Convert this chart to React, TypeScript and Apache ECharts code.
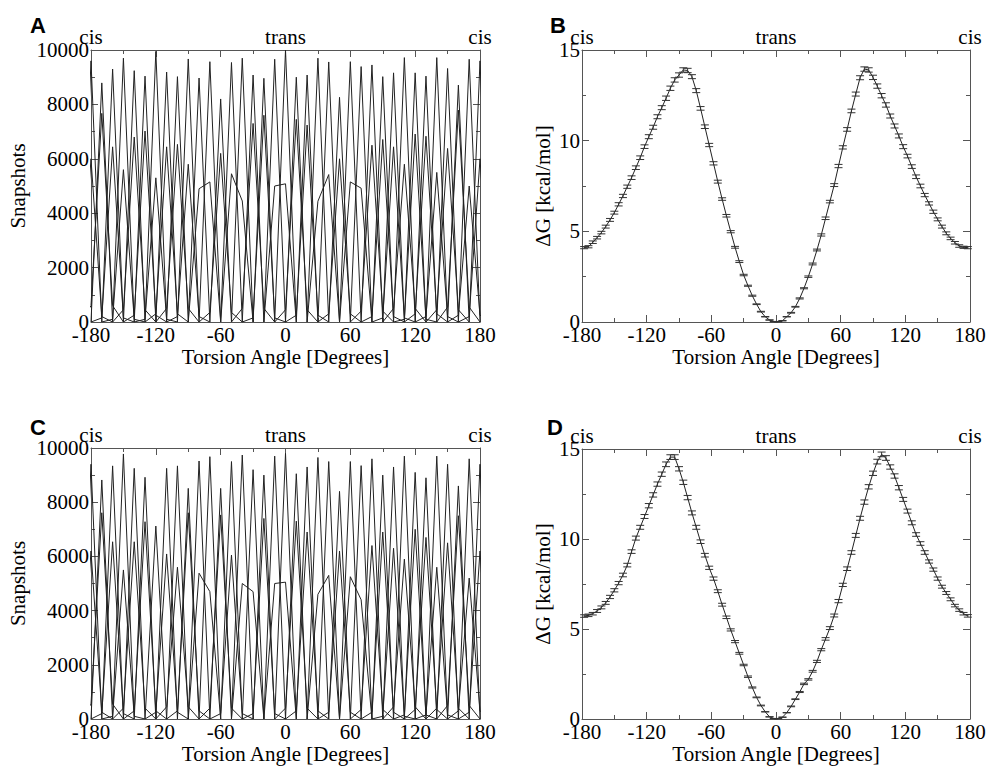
import React, { useEffect, useRef } from "react";
import * as echarts from "echarts";

const FONT = "Liberation Serif";
const SANS = "Liberation Sans";
const FS = 21;

// ---------- data ----------
// histogram grid (window centres, degrees)
const histAngles = [-180, -170, -160, -150, -140, -130, -120, -110, -100, -90, -80, -70, -60, -50, -40, -30, -20, -10, 0, 10, 20, 30, 40, 50, 60, 70, 80, 90, 100, 110, 120, 130, 140, 150, 160, 170, 180];

// Panel A: umbrella windows (snapshots)
const tallA = [9600, 8790, 9300, 9700, 9240, 9040, 9950, 9190, 9020, 9670, 8970, 9570, 8200, 9540, 9700, 9080, 8960, 9660, 10000, 9000, 9080, 9700, 9560, 8260, 9570, 9390, 9450, 9020, 9160, 9720, 9160, 9040, 9720, 9320, 8710, 9660, 9600];
const midA = [6000, 7670, 6440, 5600, 6800, 7020, 5300, 6440, 6530, 5800, null, null, 6200, null, null, 7300, 7600, null, null, 7450, 7240, null, null, 6000, null, null, 6500, 6710, 6440, 5800, 6910, 6830, 5500, 6380, 7790, 5000, 6000];
const tailA = [200, 600, 150, 100, 450, 250, 100, 300, 500, 200, 0, 0, 350, 0, 0, 500, 150, 0, 0, 450, 250, 0, 0, 300, 0, 0, 400, 200, 150, 500, 100, 300, 200, 450, 550, 250, 200];
const plateauStartA = [-80, -50, -10, 30, 60];
const plateauLeftA = [4900, 5450, 5000, 4440, 5150];
const plateauRightA = [5150, 4450, 5080, 5420, 4920];

// Panel C
const tallC = [9400, 8820, 9340, 9780, 9250, 8920, 7120, 9250, 9340, 8510, 9520, 9680, 8510, 9500, 9740, 9200, 9000, 9700, 9800, 9050, 9300, 9650, 9500, 8400, 9500, 9350, 9600, 9000, 9300, 9700, 9100, 8900, 9700, 9400, 8600, 9600, 9400];
const midC = [6200, 7610, 6540, 5500, 6540, 7280, null, 6090, 5600, 7610, null, null, 7530, 6050, null, null, 7400, null, null, 7300, 6900, null, null, 6200, null, null, 6400, 6900, 6300, 5900, 7000, 6700, 5600, 6500, 7500, 5200, 6200];
const tailC = [250, 550, 200, 100, 400, 300, 0, 250, 450, 300, 0, 0, 400, 200, 0, 0, 200, 0, 0, 400, 300, 0, 0, 250, 0, 0, 350, 250, 100, 450, 150, 350, 150, 400, 500, 300, 250];
const plateauStartC = [-80, -40, -10, 30, 60];
const plateauLeftC = [5380, 5000, 5000, 4600, 5250];
const plateauRightC = [4700, 4700, 5050, 5300, 4400];

// free-energy bin centres
const feAngles = Array.from({ length: 90 }, (_, i) => -178 + 4 * i);

// Panel B: ΔG (kcal/mol)
const dgB = [
  4.10, 4.15, 4.40, 4.65, 4.93, 5.26, 5.63, 6.03, 6.49, 6.95, 7.46, 7.96, 8.51, 9.06, 9.67, 10.22, 10.74, 11.32, 11.82, 12.34, 12.89, 13.35, 13.62, 13.90, 13.87, 13.53, 12.76, 11.78, 10.77, 9.76, 8.75, 7.74, 6.78, 5.86, 4.98, 4.12, 3.33, 2.59, 2.00, 1.45, 0.98, 0.57, 0.29, 0.11, 0.02,
  0.02, 0.07, 0.29, 0.51, 0.84, 1.30, 1.86, 2.50, 3.20, 3.97, 4.80, 5.72, 6.64, 7.55, 8.60, 9.63, 10.62, 11.64, 12.57, 13.47, 13.95, 13.90, 13.49, 13.01, 12.48, 11.97, 11.36, 10.81, 10.26, 9.67, 9.15, 8.57, 8.01, 7.50, 7.00, 6.54, 6.08, 5.66, 5.26, 4.89, 4.61, 4.37, 4.19, 4.12, 4.10,
];
const errB = [
  0.06, 0.06, 0.07, 0.07, 0.07, 0.08, 0.08, 0.08, 0.09, 0.09, 0.09, 0.10, 0.10, 0.10, 0.10, 0.11, 0.11, 0.11, 0.11, 0.12, 0.12, 0.12, 0.12, 0.12, 0.12, 0.11, 0.11, 0.10, 0.10, 0.09, 0.09, 0.08, 0.07, 0.07, 0.06, 0.05, 0.05, 0.04, 0.03, 0.03, 0.02, 0.02, 0.01, 0.01, 0.01,
  0.01, 0.01, 0.01, 0.02, 0.02, 0.03, 0.03, 0.04, 0.05, 0.05, 0.06, 0.07, 0.07, 0.08, 0.09, 0.09, 0.10, 0.10, 0.11, 0.11, 0.12, 0.12, 0.12, 0.12, 0.12, 0.12, 0.11, 0.11, 0.11, 0.11, 0.10, 0.10, 0.10, 0.10, 0.09, 0.09, 0.09, 0.08, 0.08, 0.08, 0.07, 0.07, 0.07, 0.06, 0.06,
];

// Panel D: ΔG (kcal/mol)
const dgD = [
  5.72, 5.76, 5.85, 6.00, 6.20, 6.45, 6.78, 7.15, 7.55, 8.00, 8.55, 9.30, 10.05, 10.65, 11.25, 11.85, 12.45, 13.05, 13.60, 14.15, 14.55, 14.55, 13.90, 13.15, 12.30, 11.45, 10.65, 9.85, 9.10, 8.40, 7.80, 7.10, 6.35, 5.65, 4.95, 4.30, 3.65, 3.00, 2.35, 1.75, 1.20, 0.75, 0.40, 0.12, 0.02,
  0.02, 0.10, 0.35, 0.70, 1.10, 1.50, 1.95, 2.20, 2.65, 3.20, 3.85, 4.45, 5.05, 5.75, 6.55, 7.45, 8.35, 9.25, 10.20, 11.15, 12.05, 12.90, 13.65, 14.30, 14.70, 14.50, 14.00, 13.50, 12.85, 12.20, 11.55, 10.90, 10.25, 9.75, 9.25, 8.75, 8.30, 7.80, 7.35, 7.00, 6.65, 6.30, 6.05, 5.85, 5.73,
];
const errD = [
  0.07, 0.07, 0.07, 0.08, 0.08, 0.08, 0.09, 0.09, 0.09, 0.10, 0.10, 0.10, 0.11, 0.11, 0.11, 0.12, 0.12, 0.12, 0.12, 0.13, 0.13, 0.13, 0.12, 0.12, 0.12, 0.11, 0.11, 0.10, 0.10, 0.09, 0.09, 0.08, 0.08, 0.07, 0.06, 0.06, 0.05, 0.04, 0.04, 0.03, 0.02, 0.02, 0.01, 0.01, 0.01,
  0.01, 0.01, 0.01, 0.02, 0.02, 0.03, 0.04, 0.04, 0.05, 0.06, 0.06, 0.07, 0.08, 0.08, 0.09, 0.09, 0.10, 0.10, 0.11, 0.11, 0.12, 0.12, 0.12, 0.13, 0.13, 0.13, 0.12, 0.12, 0.12, 0.11, 0.11, 0.11, 0.10, 0.10, 0.10, 0.09, 0.09, 0.09, 0.08, 0.08, 0.08, 0.07, 0.07, 0.07, 0.07,
];

const panelLetters = ["A", "B", "C", "D"];
const topLabels: Record<number, string> = { [-180]: "cis", 0: "trans", 180: "cis" };

// ---------- layout ----------
const grids = [
  { left: 91, top: 50, width: 389, height: 272 },
  { left: 582, top: 50, width: 388, height: 272 },
  { left: 91, top: 448, width: 389, height: 271 },
  { left: 582, top: 449, width: 388, height: 270 },
];
const letterPos = [
  { x: 30, y: 14 },
  { x: 550, y: 14 },
  { x: 30, y: 416 },
  { x: 547, y: 416 },
];

const AX = "#555";
const LINE = "#222";

function buildOption() {
  const xAxis: any[] = [];
  const yAxis: any[] = [];
  const series: any[] = [];
  const textStyle = { fontFamily: FONT, fontSize: FS, color: "#000" };

  grids.forEach((_, g) => {
    const isHist = g === 0 || g === 2;
    const common = {
      type: "value",
      gridIndex: g,
      min: -180,
      max: 180,
      interval: 60,
      axisLine: { show: true, onZero: false, lineStyle: { color: AX, width: 1 } },
      axisTick: { show: true, inside: true, length: 7, lineStyle: { color: AX } },
      minorTick: { show: true, splitNumber: 2, length: 4, lineStyle: { color: AX } },
      splitLine: { show: false },
      minorSplitLine: { show: false },
    };
    xAxis.push({
      ...common,
      position: "bottom",
      axisLabel: { ...textStyle, margin: 2, formatter: (v: number) => String(v) },
      name: "Torsion Angle [Degrees]",
      nameLocation: "middle",
      nameGap: 24,
      nameTextStyle: textStyle,
    });
    xAxis.push({
      ...common,
      position: "top",
      axisLabel: { ...textStyle, margin: 3, formatter: (v: number) => topLabels[v] ?? "" },
    });
    const ycommon = {
      type: "value",
      gridIndex: g,
      min: 0,
      max: isHist ? 10000 : 15,
      interval: isHist ? 2000 : 5,
      axisLine: { show: true, onZero: false, lineStyle: { color: AX, width: 1 } },
      axisTick: { show: true, inside: true, length: 7, lineStyle: { color: AX } },
      minorTick: { show: true, splitNumber: 2, length: 4, lineStyle: { color: AX } },
      splitLine: { show: false },
      minorSplitLine: { show: false },
    };
    yAxis.push({
      ...ycommon,
      position: "left",
      axisLabel: { ...textStyle, margin: 2, formatter: (v: number) => String(v) },
      name: isHist ? "Snapshots" : "ΔG [kcal/mol]",
      nameLocation: "middle",
      nameGap: isHist ? 63 : 29,
      nameTextStyle: textStyle,
    });
    yAxis.push({ ...ycommon, position: "right", axisLabel: { show: false } });
  });

  const line = (g: number, data: number[][]) => ({
    type: "line",
    xAxisIndex: 2 * g,
    yAxisIndex: 2 * g,
    data,
    symbol: "none",
    showSymbol: false,
    silent: true,
    clip: true,
    lineStyle: { color: LINE, width: 1 },
    z: 2,
  });

  const addHist = (g: number, tall: number[], mid: (number | null)[], tail: number[], ps: number[], pl: number[], pr: number[]) => {
    histAngles.forEach((c, i) => {
      series.push(line(g, [[c - 10, 0], [c, tall[i]], [c + 10, 0]]));
      const m = mid[i];
      if (m != null) {
        series.push(line(g, [[c - 20, 0], [c - 10, tail[i]], [c, m], [c + 10, tail[i]], [c + 20, 0]]));
      }
    });
    ps.forEach((s, i) => {
      series.push(line(g, [[s - 10, 0], [s, pl[i]], [s + 10, pr[i]], [s + 20, 0]]));
    });
  };
  addHist(0, tallA, midA, tailA, plateauStartA, plateauLeftA, plateauRightA);
  addHist(2, tallC, midC, tailC, plateauStartC, plateauLeftC, plateauRightC);

  const addFE = (g: number, vals: number[], err: number[]) => {
    series.push(line(g, feAngles.map((a, i) => [a, vals[i]])));
    series.push({
      type: "custom",
      xAxisIndex: 2 * g,
      yAxisIndex: 2 * g,
      silent: true,
      z: 3,
      data: feAngles.map((a, i) => [a, vals[i] - err[i], vals[i] + err[i]]),
      renderItem: (_p: any, api: any) => {
        const x = api.value(0);
        const lo = api.coord([x, api.value(1)]);
        const hi = api.coord([x, api.value(2)]);
        const w = 4;
        const st = { stroke: "#333", lineWidth: 1 };
        return {
          type: "group",
          children: [
            { type: "line", shape: { x1: lo[0], y1: lo[1], x2: hi[0], y2: hi[1] }, style: st },
            { type: "line", shape: { x1: lo[0] - w, y1: lo[1], x2: lo[0] + w, y2: lo[1] }, style: st },
            { type: "line", shape: { x1: hi[0] - w, y1: hi[1], x2: hi[0] + w, y2: hi[1] }, style: st },
          ],
        };
      },
    });
  };
  addFE(1, dgB, errB);
  addFE(3, dgD, errD);

  return {
    animation: false,
    backgroundColor: "#fff",
    grid: grids.map((g) => ({ ...g, containLabel: false })),
    xAxis,
    yAxis,
    series,
    graphic: panelLetters.map((t, i) => ({
      type: "text",
      x: letterPos[i].x,
      y: letterPos[i].y,
      style: { text: t, fontFamily: SANS, fontWeight: "bold", fontSize: 22, fill: "#000", textVerticalAlign: "top" },
    })),
  };
}

export default function App() {
  const ref = useRef<HTMLDivElement>(null);
  useEffect(() => {
    if (!ref.current) return;
    const chart = echarts.init(ref.current, undefined, { renderer: "svg" });
    chart.setOption(buildOption() as any);
    return () => chart.dispose();
  }, []);
  return (
    <div
      ref={ref}
      style={{ position: "fixed", left: 0, top: 0, width: 989, height: 767, background: "#fff" }}
    />
  );
}
